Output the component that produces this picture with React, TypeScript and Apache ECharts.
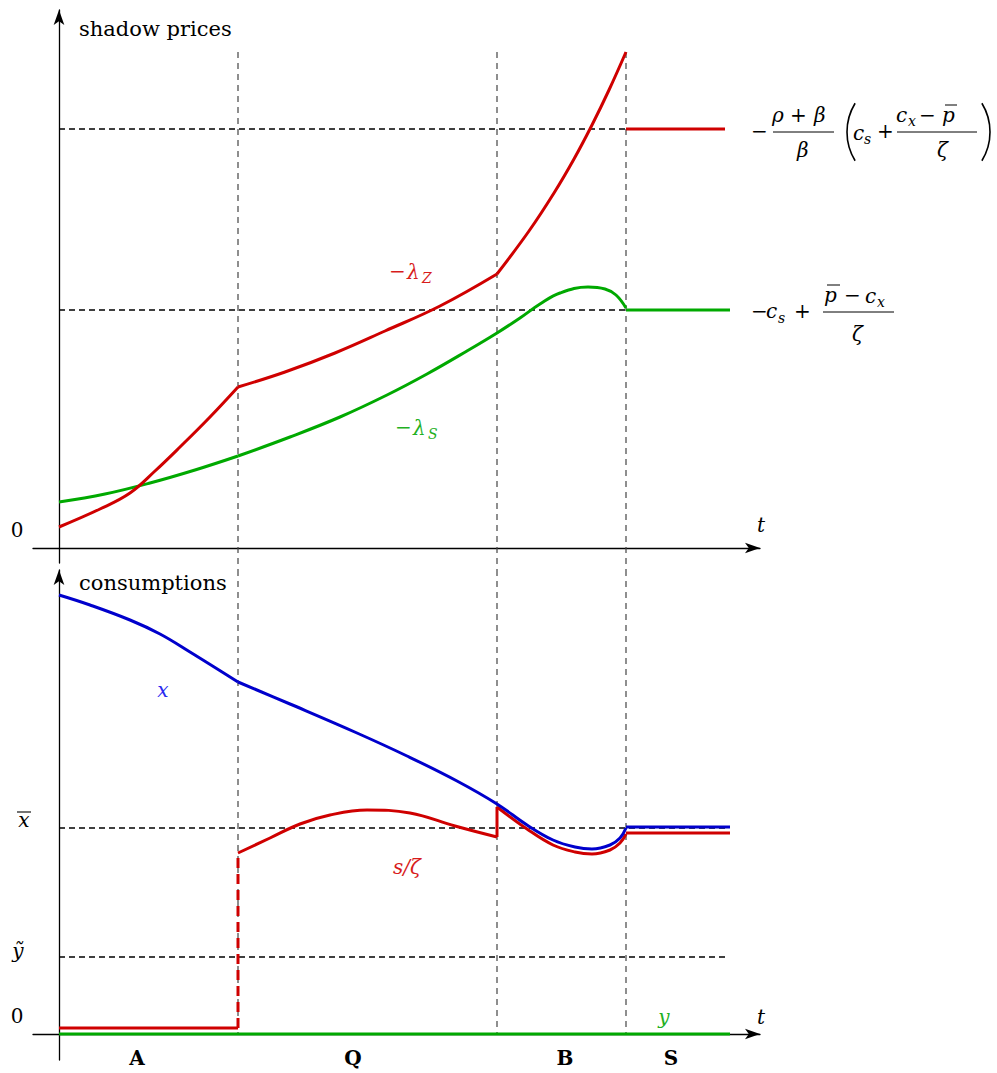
import React, { useEffect, useRef } from "react";
import * as echarts from "echarts";

// ---------- data (t units, value units) ----------
const phaseBounds = [1.79, 4.38, 5.67];
const tEnd = 6.66;

// top panel: shadow prices
const lamZ_A = [[0, 0.21], [0.41, 0.39], [0.71, 0.55], [0.96, 0.77], [1.21, 1.01], [1.51, 1.31], [1.79, 1.61]];
const lamZ_Q = [[1.79, 1.61], [2.26, 1.76], [2.76, 1.95], [3.26, 2.17], [3.81, 2.42], [4.38, 2.74]];
const lamZ_B = [[4.38, 2.74], [4.7, 3.17], [4.95, 3.55], [5.15, 3.89], [5.33, 4.23], [5.5, 4.58], [5.67, 4.96]];
const lamZ_S = [[5.67, 4.19], [6.66, 4.19]];
const lamS_A = [[0, 0.46], [0.46, 0.54], [0.91, 0.65], [1.36, 0.78], [1.79, 0.92]];
const lamS_QB = [[1.79, 0.92], [2.31, 1.11], [2.81, 1.31], [3.28, 1.53], [3.68, 1.74], [4.08, 1.97], [4.38, 2.15], [4.61, 2.3], [4.81, 2.44], [5.01, 2.55], [5.29, 2.61], [5.46, 2.59], [5.57, 2.53], [5.67, 2.4]];
const lamS_S = [[5.67, 2.38], [6.71, 2.38]];
const topLevels = [4.19, 2.38];

// bottom panel: consumptions
const x_A = [[0, 4.39], [0.31, 4.29], [0.71, 4.14], [1.01, 4.0], [1.31, 3.82], [1.79, 3.52]];
const x_QB = [[1.79, 3.52], [2.31, 3.3], [2.98, 3.01], [3.48, 2.78], [3.98, 2.53], [4.38, 2.3], [4.68, 2.09], [4.94, 1.94], [5.16, 1.87], [5.33, 1.85], [5.51, 1.89], [5.61, 1.96], [5.67, 2.06]];
const x_S = [[5.67, 2.07], [6.71, 2.07]];
const s_A = [[0, 0.06], [1.79, 0.06]];
const s_jumpQ = [[1.79, 0.06], [1.79, 1.81]];
const s_Q = [[1.79, 1.81], [2.11, 1.96], [2.41, 2.1], [2.71, 2.19], [3.08, 2.24], [3.51, 2.21], [3.96, 2.08], [4.38, 1.97]];
const s_jumpB = [[4.38, 1.97], [4.38, 2.27]];
const s_B = [[4.38, 2.27], [4.68, 2.05], [4.94, 1.89], [5.16, 1.82], [5.33, 1.8], [5.51, 1.84], [5.61, 1.91], [5.67, 2.0]];
const s_S = [[5.67, 2.01], [6.71, 2.01]];
const y_all = [[0, 0], [6.71, 0]];
const bottomLevels = [2.06, 0.77];

const phaseLabels = ["A", "Q", "B", "S"];

// ---------- styling ----------
const RED = "#cf0000";
const GREEN = "#00a900";
const BLUE = "#0000cc";
const RED_L = "#d81c1c";
const GREEN_L = "#22b022";
const BLUE_L = "#2a2af0";
const FONT = "DejaVu Serif";

type TO = { size?: number; italic?: boolean; bold?: boolean; color?: string; align?: string };
const txt = (text: string, x: number, y: number, o: TO = {}) => ({
  type: "text",
  x,
  y,
  silent: true,
  style: {
    text,
    fill: o.color || "#000",
    fontSize: o.size || 20,
    fontFamily: FONT,
    fontStyle: o.italic ? "italic" : "normal",
    fontWeight: o.bold ? "bold" : "normal",
    textAlign: o.align || "left",
    textVerticalAlign: "middle",
    align: o.align || "left",
    verticalAlign: "middle",
  },
});
const seg = (x1: number, y1: number, x2: number, y2: number, w = 1, c = "#000") => ({
  type: "line",
  silent: true,
  shape: { x1, y1, x2, y2 },
  style: { stroke: c, lineWidth: w },
});
const paren = (cx: number, cy: number, r: number, a0: number, a1: number) => ({
  type: "arc",
  silent: true,
  shape: { cx, cy, r, startAngle: a0, endAngle: a1, clockwise: true },
  style: { stroke: "#000", lineWidth: 1.6, fill: "none" },
});

const I = { italic: true };
const SUB = { italic: true, size: 14 };
const phaseX = [137, 353, 565, 671];

const graphics = [
  txt("shadow prices", 79, 29, { size: 21 }),
  txt("consumptions", 79, 583, { size: 21 }),
  txt("0", 17, 530, { align: "center" }),
  txt("0", 17, 1016, { align: "center" }),
  txt("t", 761, 525, { italic: true, align: "center" }),
  txt("t", 761, 1017, { italic: true, align: "center" }),
  txt("x", 24, 820, { italic: true, align: "center" }),
  seg(17, 812, 31, 812, 1.1),
  txt("ỹ", 18, 951, { italic: true, align: "center" }),
  ...phaseLabels.map((p, i) => txt(p, phaseX[i], 1058, { bold: true, align: "center" })),
  txt("x", 163, 690, { italic: true, align: "center", color: BLUE_L }),
  txt("y", 664, 1017, { italic: true, align: "center", color: GREEN_L }),
  txt("s/ζ", 407, 867, { italic: true, align: "center", color: RED_L }),
  // -lambda_Z
  txt("−", 389, 271, { color: RED_L }),
  txt("λ", 407, 272, { italic: true, color: RED_L }),
  txt("Z", 422, 278, { italic: true, color: RED_L, size: 14 }),
  // -lambda_S
  txt("−", 395, 427, { color: GREEN_L }),
  txt("λ", 413, 428, { italic: true, color: GREEN_L }),
  txt("S", 428, 434, { italic: true, color: GREEN_L, size: 14 }),
  // formula 1
  txt("−", 751, 131),
  txt("ρ", 772, 115, I),
  txt("+", 790, 115),
  txt("β", 814, 115, I),
  seg(773, 132, 834, 132),
  txt("β", 797, 150, I),
  paren(902, 132, 55, Math.PI - 0.55, Math.PI + 0.55),
  txt("c", 853, 133, I),
  txt("s", 864, 139, SUB),
  txt("+", 877, 131),
  txt("c", 896, 115, I),
  txt("x", 908, 121, SUB),
  txt("−", 919, 115),
  txt("p", 942, 115, I),
  seg(945, 105, 957, 105),
  seg(897, 132, 977, 132),
  txt("ζ", 937, 150, I),
  paren(935, 132, 55, -0.55, 0.55),
  // formula 2
  txt("−", 751, 311),
  txt("c", 766, 311, I),
  txt("s", 778, 318, SUB),
  txt("+", 794, 311),
  txt("p", 824, 295, I),
  seg(827, 285, 840, 285),
  txt("−", 844, 295),
  txt("c", 865, 296, I),
  txt("x", 877, 302, SUB),
  seg(823, 312, 894, 312),
  txt("ζ", 852, 334, I),
];

const line = (data: any[], gi: number, color: string, width: number, o: any = {}) => ({
  type: "line",
  xAxisIndex: gi,
  yAxisIndex: gi,
  data,
  symbol: "none",
  showSymbol: false,
  smooth: o.smooth ?? 0,
  clip: o.clip ?? true,
  z: o.z ?? 3,
  silent: true,
  lineStyle: { color, width, type: o.dash || "solid", cap: "butt", join: "round" },
});

const axisLine = {
  show: true,
  onZero: true,
  symbol: ["none", "arrow"],
  symbolSize: [8, 15],
  lineStyle: { color: "#000", width: 1.3 },
};
const hidden = { axisTick: { show: false }, axisLabel: { show: false }, splitLine: { show: false } };

export default function App() {
  const ref = useRef<HTMLDivElement>(null);
  useEffect(() => {
    document.body.style.margin = "0";
    const chart = echarts.init(ref.current!, undefined, { renderer: "svg" });
    const vDash = [6, 5];
    const hDash = [6, 4];
    const S = 0.4;
    const series: any[] = [
      ...phaseBounds.map((b) => line([[b, 4.96], [b, -0.22]], 0, "#444", 1.2, { dash: vDash, clip: false, z: 1 })),
      ...topLevels.map((v) => line([[0, v], [tEnd, v]], 0, "#000", 1.3, { dash: hDash, z: 1 })),
      ...phaseBounds.map((b) => line([[b, 4.64], [b, 0]], 1, "#444", 1.2, { dash: vDash, z: 1 })),
      ...bottomLevels.map((v) => line([[0, v], [tEnd, v]], 1, "#000", 1.3, { dash: hDash, z: 1 })),
      line(lamS_A, 0, GREEN, 3, { smooth: S }),
      line(lamS_QB, 0, GREEN, 3, { smooth: S }),
      line(lamS_S, 0, GREEN, 3),
      line(lamZ_A, 0, RED, 3, { smooth: S }),
      line(lamZ_Q, 0, RED, 3, { smooth: S }),
      line(lamZ_B, 0, RED, 3, { smooth: S }),
      line(lamZ_S, 0, RED, 3),
      line(s_A, 1, RED, 3),
      line(s_jumpQ, 1, RED, 3, { dash: [10, 6] }),
      line(s_Q, 1, RED, 3, { smooth: S }),
      line(s_jumpB, 1, RED, 3),
      line(s_B, 1, RED, 3, { smooth: S }),
      line(s_S, 1, RED, 3),
      line(x_A, 1, BLUE, 3, { smooth: S, z: 4 }),
      line(x_QB, 1, BLUE, 3, { smooth: S, z: 4 }),
      line(x_S, 1, BLUE, 3, { z: 4 }),
      line(y_all, 1, GREEN, 3, { z: 4 }),
    ];
    chart.setOption({
      animation: false,
      backgroundColor: "#fff",
      grid: [
        { left: 33, top: 10, width: 727, height: 553, outerBoundsMode: "none" },
        { left: 33, top: 570, width: 727, height: 490, outerBoundsMode: "none" },
      ],
      xAxis: [0, 1].map((i) => ({ type: "value", gridIndex: i, min: -0.26, max: 7.01, axisLine, ...hidden })),
      yAxis: [
        { type: "value", gridIndex: 0, min: -0.15, max: 5.38, axisLine, ...hidden },
        { type: "value", gridIndex: 1, min: -0.26, max: 4.64, axisLine, ...hidden },
      ],
      series,
      graphic: { elements: graphics },
    });
    return () => chart.dispose();
  }, []);
  return <div ref={ref} style={{ width: 997, height: 1073 }} />;
}
